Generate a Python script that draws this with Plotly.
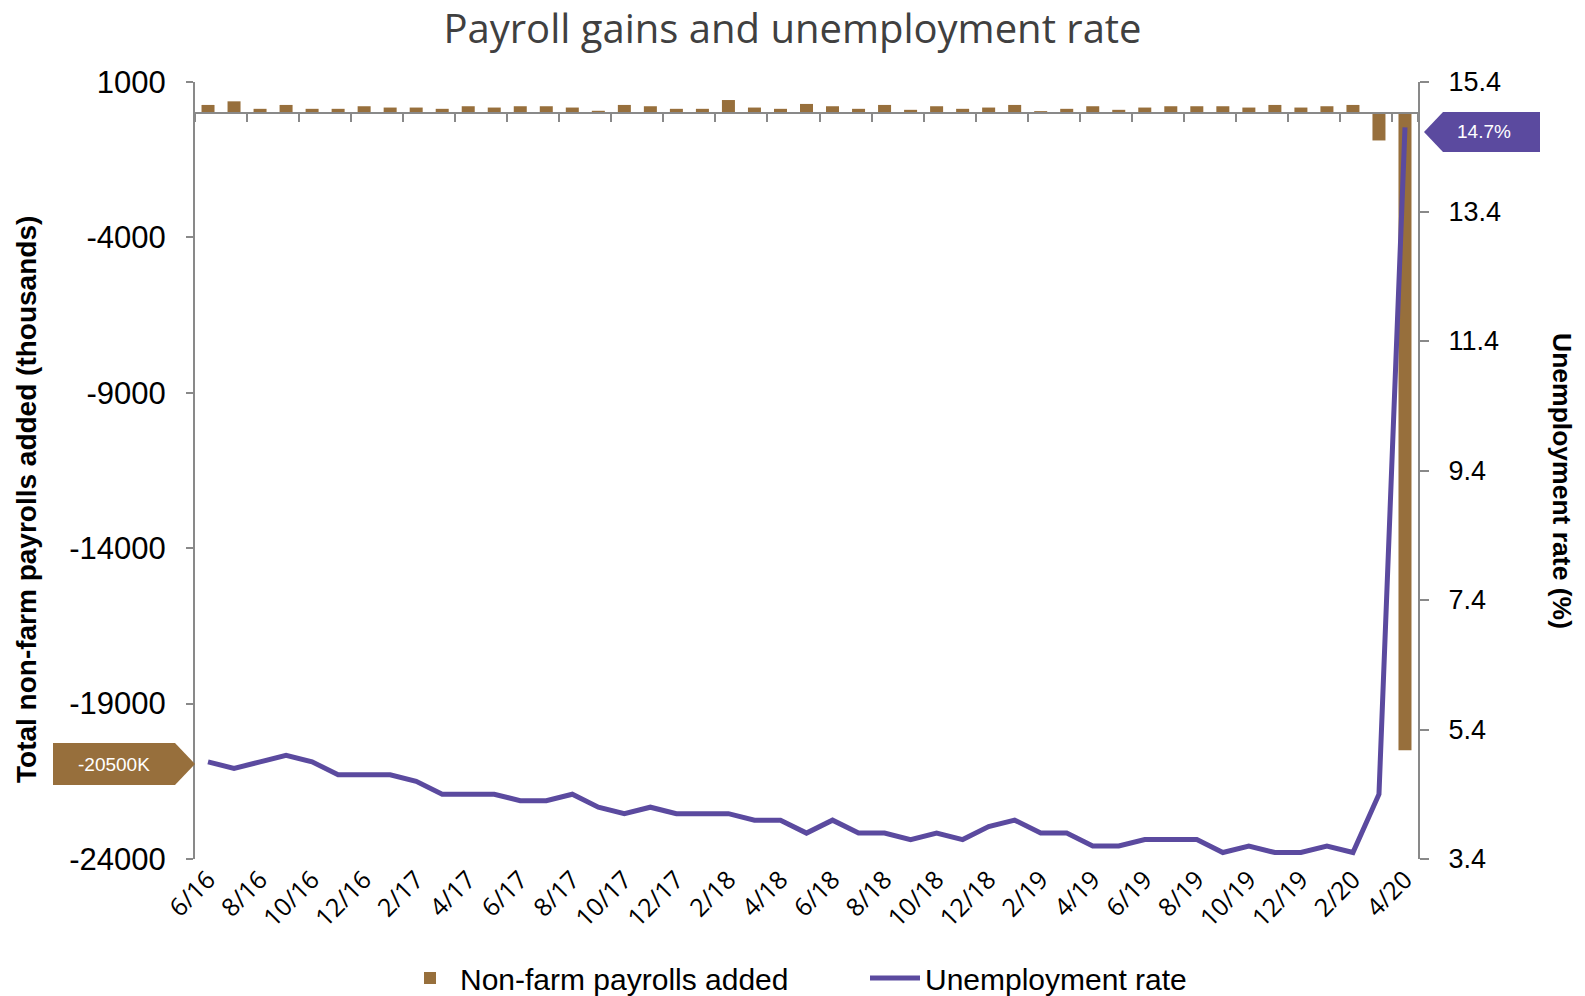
import plotly.graph_objects as go

# ---------------- data ----------------
months = ["6/16", "7/16", "8/16", "9/16", "10/16", "11/16", "12/16",
          "1/17", "2/17", "3/17", "4/17", "5/17", "6/17", "7/17", "8/17", "9/17", "10/17", "11/17", "12/17",
          "1/18", "2/18", "3/18", "4/18", "5/18", "6/18", "7/18", "8/18", "9/18", "10/18", "11/18", "12/18",
          "1/19", "2/19", "3/19", "4/19", "5/19", "6/19", "7/19", "8/19", "9/19", "10/19", "11/19", "12/19",
          "1/20", "2/20", "3/20", "4/20"]

payrolls = [262, 378, 137, 262, 137, 137, 220,
            178, 178, 137, 220, 178, 220, 220, 178, 74, 262, 220, 137,
            137, 420, 178, 137, 294, 220, 137, 262, 105, 220, 137, 178,
            262, 63, 137, 220, 105, 178, 220, 220, 220, 178, 262, 178,
            220, 262, -881, -20500]

unemployment = [4.9, 4.8, 4.9, 5.0, 4.9, 4.7, 4.7,
                4.7, 4.6, 4.4, 4.4, 4.4, 4.3, 4.3, 4.4, 4.2, 4.1, 4.2, 4.1,
                4.1, 4.1, 4.0, 4.0, 3.8, 4.0, 3.8, 3.8, 3.7, 3.8, 3.7, 3.9,
                4.0, 3.8, 3.8, 3.6, 3.6, 3.7, 3.7, 3.7, 3.5, 3.6, 3.5, 3.5,
                3.6, 3.5, 4.4, 14.7]

left_ticks = [1000, -4000, -9000, -14000, -19000, -24000]
right_ticks = [15.4, 13.4, 11.4, 9.4, 7.4, 5.4, 3.4]
label_months = months[::2]

# ---------------- style ----------------
W, H = 1585, 996
ML, MR, MT, MB = 195, 167, 82, 137
PW, PH = W - ML - MR, H - MT - MB
BROWN = "#976F3C"
PURPLE = "#5B4A9F"
AXIS = "#898989"


def px(x):
    return (x - ML) / PW


def py(y):
    return (H - MB - y) / PH


zero_pos = (0 - left_ticks[-1]) / (left_ticks[0] - left_ticks[-1])
cat_range = [-0.5, len(months) - 0.5]

fig = go.Figure()
fig.add_trace(go.Bar(
    x=months, y=payrolls, name="Non-farm payrolls added",
    marker=dict(color=BROWN, line=dict(width=0)),
    xaxis="x", yaxis="y",
))
fig.add_trace(go.Scatter(
    x=months, y=unemployment, name="Unemployment rate", mode="lines",
    line=dict(color=PURPLE, width=5),
    xaxis="x2", yaxis="y2",
))

# callouts
left_path = (f"M {px(53)},{py(743)} L {px(175)},{py(743)} L {px(195)},{py(764)} "
             f"L {px(175)},{py(785)} L {px(53)},{py(785)} Z")
right_path = (f"M {px(1424)},{py(132)} L {px(1443)},{py(112)} L {px(1540)},{py(112)} "
              f"L {px(1540)},{py(152)} L {px(1443)},{py(152)} Z")
shapes = [
    dict(type="path", path=left_path, xref="paper", yref="paper",
         fillcolor=BROWN, line=dict(width=0), layer="above"),
    dict(type="path", path=right_path, xref="paper", yref="paper",
         fillcolor=PURPLE, line=dict(width=0), layer="above"),
]

annotations = [
    dict(text=f"{payrolls[-1]}K", x=px(114), y=py(764), xref="paper", yref="paper",
         showarrow=False, font=dict(family="Liberation Sans, Arial", size=19, color="white"),
         xanchor="center", yanchor="middle"),
    dict(text=f"{unemployment[-1]}%", x=px(1484), y=py(132), xref="paper", yref="paper",
         showarrow=False, font=dict(family="Liberation Sans, Arial", size=19, color="white"),
         xanchor="center", yanchor="middle"),
    dict(text="<b>Total non-farm payrolls added (thousands)</b>", x=px(27), y=py(500),
         xref="paper", yref="paper", showarrow=False, textangle=-90,
         font=dict(family="Liberation Sans, Arial", size=28, color="black"),
         xanchor="center", yanchor="middle"),
    dict(text="<b>Unemployment rate (%)</b>", x=px(1562), y=py(481),
         xref="paper", yref="paper", showarrow=False, textangle=90,
         font=dict(family="Liberation Sans, Arial", size=26.5, color="black"),
         xanchor="center", yanchor="middle"),
]

fig.update_layout(
    width=W, height=H,
    margin=dict(l=ML, r=MR, t=MT, b=MB, autoexpand=False),
    paper_bgcolor="white", plot_bgcolor="white",
    title=dict(text="Payroll gains and unemployment rate", x=0.5, xanchor="center",
               y=1 - 29 / H, yanchor="middle",
               font=dict(family="Open Sans", size=40, color="#404040")),
    bargap=0.5,
    showlegend=True,
    legend=dict(orientation="h", x=px(400), xanchor="left", y=py(978), yanchor="middle",
                font=dict(family="Liberation Sans, Arial", size=30, color="black"),
                itemwidth=50, entrywidth=400, entrywidthmode="pixels",
                traceorder="normal", bgcolor="rgba(0,0,0,0)"),
    xaxis=dict(
        type="category", categoryorder="array", categoryarray=months, range=cat_range,
        tickmode="array", tickvals=label_months, ticktext=label_months,
        tickangle=-45, ticks="", showline=False, showgrid=False, zeroline=False,
        tickfont=dict(family="Open Sans", size=25, color="black"),
        ticklabelstandoff=0,
    ),
    xaxis2=dict(
        type="category", categoryorder="array", categoryarray=months, range=cat_range,
        overlaying="x", anchor="free", position=zero_pos, side="bottom",
        tickmode="array", tickvals=label_months, tickson="boundaries",
        ticks="outside", ticklen=8, tickwidth=2, tickcolor=AXIS,
        showticklabels=False, showline=True, linecolor=AXIS, linewidth=2,
        showgrid=False, zeroline=False,
    ),
    yaxis=dict(
        range=[left_ticks[-1], left_ticks[0]], tickmode="array", tickvals=left_ticks,
        ticktext=[str(v) for v in left_ticks],
        ticks="outside", ticklen=7, tickwidth=2, tickcolor=AXIS,
        showline=True, linecolor=AXIS, linewidth=2, showgrid=False, zeroline=False,
        tickfont=dict(family="Liberation Sans, Arial", size=31, color="black"),
        ticklabelstandoff=14,
    ),
    yaxis2=dict(
        range=[right_ticks[-1], right_ticks[0]], tickmode="array", tickvals=right_ticks,
        ticktext=[f"{v:.1f}" for v in right_ticks],
        overlaying="y", side="right", anchor="x2",
        ticks="outside", ticklen=9, tickwidth=2, tickcolor=AXIS,
        showline=True, linecolor=AXIS, linewidth=2, showgrid=False, zeroline=False,
        tickfont=dict(family="Liberation Sans, Arial", size=27, color="black"),
        ticklabelstandoff=14,
    ),
    shapes=shapes,
    annotations=annotations,
)

fig.write_html("out.html")
